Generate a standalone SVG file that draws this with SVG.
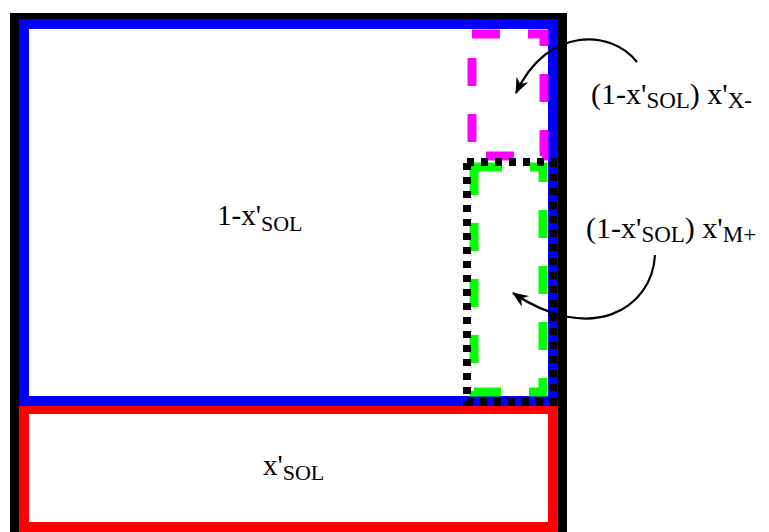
<svg xmlns="http://www.w3.org/2000/svg" width="769" height="532" viewBox="0 0 769 532">
<defs>
<style>
.lbl{font-family:"Liberation Serif","Times New Roman",serif;font-size:29px;fill:#000}
.sub{font-size:22px}
.big{font-size:30px}
.big .sub{font-size:23px}
.arrow{fill:none;stroke:#000;stroke-width:2.2}
</style>
<marker id="ah" markerUnits="userSpaceOnUse" markerWidth="20" markerHeight="16" viewBox="-17 -8 19 16" refX="-1" refY="0" orient="auto">
<path d="M0,0 L-16,-6.5 L-11,0 L-16,6.5 Z" fill="#000"/>
</marker>
</defs>
<rect width="769" height="532" fill="#fff"/>
<g id="frame"><rect x="14.5" y="17.5" width="548" height="530" fill="#fff" stroke="#000" stroke-width="9"/></g>
<g id="sol-box"><rect x="24" y="409" width="529" height="118" fill="none" stroke="#f00" stroke-width="10"/></g>
<g id="nonsol-box"><rect x="24" y="24" width="529" height="377" fill="none" stroke="#00f" stroke-width="10"/></g>
<g id="x-box"><rect x="472" y="34" width="72" height="122" fill="none" stroke="#f0f" stroke-width="9" stroke-dasharray="28 28"/></g>
<g id="m-box"><rect x="474" y="167" width="69" height="225" fill="none" stroke="#0f0" stroke-width="9" stroke-dasharray="28 28"/></g>
<g id="dotted-box"><rect x="467" y="162" width="86" height="240" fill="none" stroke="#000" stroke-width="8" stroke-dasharray="7 7"/></g>
<g id="label-nonsol"><text class="lbl" x="217" y="225">1-x'<tspan class="sub" dy="6">SOL</tspan></text></g>
<g id="label-sol"><text class="lbl" x="263" y="475">x'<tspan class="sub" dy="5">SOL</tspan></text></g>
<g id="label-x"><text class="lbl big" x="591" y="104">(1-x'<tspan class="sub" dy="4">SOL</tspan><tspan dy="-4">) x'</tspan><tspan class="sub" dy="4">X-</tspan></text></g>
<g id="label-m"><text class="lbl big" x="586" y="238">(1-x'<tspan class="sub" dy="4">SOL</tspan><tspan dy="-4">) x'</tspan><tspan class="sub" dy="4">M+</tspan></text></g>
<g id="connectors">
<path class="arrow" d="M637,62 C612,30 548,25 516,93" marker-end="url(#ah)"/>
<path class="arrow" d="M655,255 C652,310 590,345 513,293" marker-end="url(#ah)"/>
</g>
</svg>
